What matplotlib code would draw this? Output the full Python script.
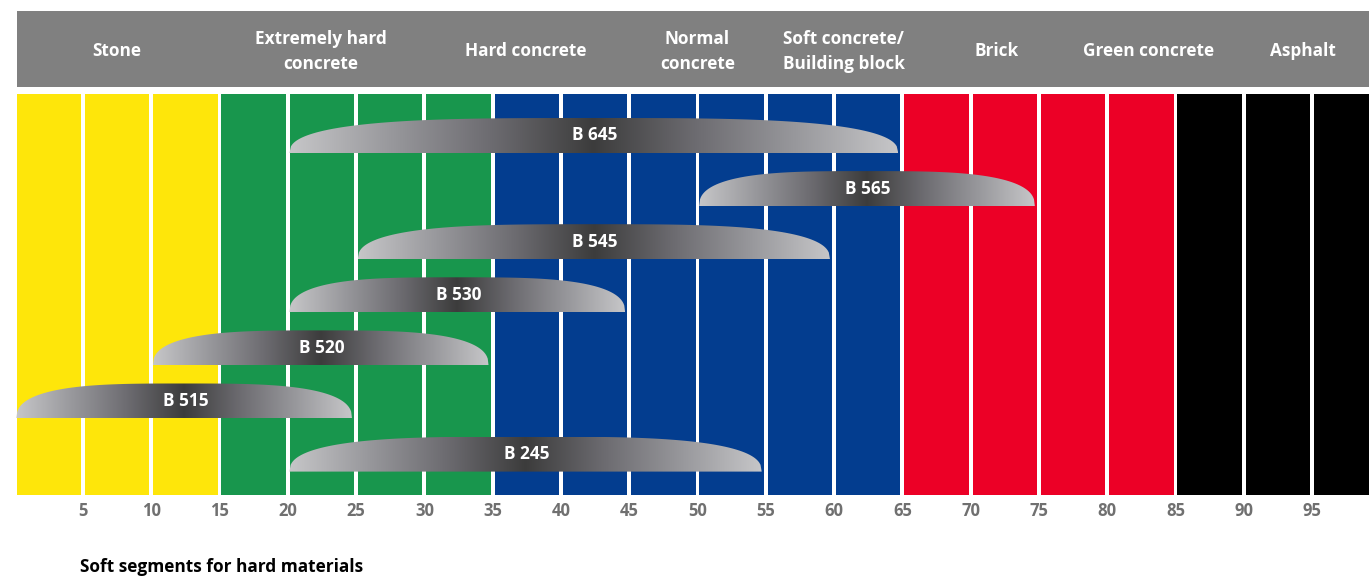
import numpy as np
import matplotlib.pyplot as plt
from matplotlib.patches import Rectangle, PathPatch
from matplotlib.path import Path
from matplotlib.colors import LinearSegmentedColormap

# hardness scale, one column every 5 units
column_starts = list(range(0, 100, 5))
column_colors = (["#FEE60A"] * 3 + ["#18964D"] * 4 + ["#033D8F"] * 6
                 + ["#EC0026"] * 4 + ["#000000"] * 3)

header_labels = ["Stone", "Extremely hard\nconcrete", "Hard concrete", "Normal\nconcrete",
                 "Soft concrete/\nBuilding block", "Brick", "Green concrete", "Asphalt"]
header_pos = [7.5, 22.4, 37.4, 50.0, 60.7, 71.9, 83.0, 94.3]

# segments (top to bottom)
segmentos = ["B 645", "B 565", "B 545", "B 530", "B 520", "B 515", "B 245"]
seg_inicio = [20, 50, 25, 20, 10, 0, 20]
seg_fim = [65, 75, 60, 45, 35, 25, 55]

tick_values = list(range(5, 100, 5))

fonte = ["Open Sans", "DejaVu Sans"]

fig = plt.figure(figsize=(13.69, 5.78), dpi=100)
ax = fig.add_axes([0, 0, 1, 1])
ax.set_xlim(-1.076, 99.17)
ax.set_ylim(578, 0)
ax.axis("off")

# header band
ax.add_patch(Rectangle((0.15, 11), 100, 76, facecolor="#808080", edgecolor="none"))
for lab, xp in zip(header_labels, header_pos):
    ax.text(xp, 51.5, lab, ha="center", va="center", color="white", fontsize=12.4,
            fontweight="bold", family=fonte, linespacing=1.5)

# colored columns
barras = ax.bar(column_starts, 401, width=4.72, bottom=94, align="edge",
                color=column_colors, edgecolor="none")
for r, v in zip(barras, column_starts):
    r.set_x(v + 0.14)

# gradient for the segment shapes
cmap_seg = LinearSegmentedColormap.from_list(
    "seg", ["#c6c6c8", "#98989c", "#6c6b70", "#3c3c3c", "#6c6b70", "#98989c", "#c6c6c8"])
grad = np.linspace(0, 1, 256).reshape(1, -1)

altura = 35
espaco = 53.1
topo = 118
for i, (nome, a, b) in enumerate(zip(segmentos, seg_inicio, seg_fim)):
    x0 = a + 0.12
    x1 = b - 0.3
    y_base = topo + i * espaco + altura
    u = np.linspace(-1, 1, 400)
    h = altura * (1 - np.abs(u) ** 3.3) ** 0.4
    xs = x0 + (u + 1) / 2 * (x1 - x0)
    ys = y_base - h
    verts = [(x0, y_base)] + list(zip(xs, ys)) + [(x1, y_base), (x0, y_base)]
    codes = [Path.MOVETO] + [Path.LINETO] * (len(verts) - 2) + [Path.CLOSEPOLY]
    forma = PathPatch(Path(verts, codes), facecolor="none", edgecolor="none")
    ax.add_patch(forma)
    im = ax.imshow(grad, extent=(x0, x1, y_base, y_base - altura), aspect="auto",
                   cmap=cmap_seg, interpolation="bilinear", zorder=3)
    im.set_clip_path(forma)
    ax.text((a + b) / 2, y_base - altura / 2, nome, ha="center", va="center",
            color="white", fontsize=12.4, fontweight="bold", family=fonte, zorder=4)

# axis numbers
for v in tick_values:
    ax.text(v, 511, str(v), ha="center", va="center", color="#707070", fontsize=12,
            fontweight="bold", family=fonte)

ax.text(4.78, 567, "Soft segments for hard materials", ha="left", va="center",
        color="black", fontsize=12.4, fontweight="bold", family=fonte)

ax.set_xlim(-1.076, 99.17)
ax.set_ylim(578, 0)
fig.savefig("out.png", dpi=100)
